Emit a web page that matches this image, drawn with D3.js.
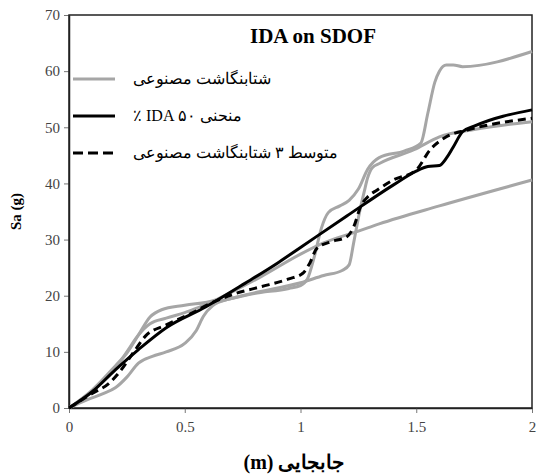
<!DOCTYPE html>
<html>
<head>
<meta charset="utf-8">
<script src="https://cdn.jsdelivr.net/npm/d3@7/dist/d3.min.js"></script>
<style>
  html, body { margin: 0; padding: 0; background: #fff; }
  svg { display: block; }
  .serif { font-family: "Liberation Serif", "Times New Roman", Times, "DejaVu Serif", serif; }
</style>
</head>
<body>
<svg id="chart" width="537" height="476"></svg>
<script>
// Displacement (m) vs Sa (g) pairs for each IDA curve
const syntheticA = [[0,0],[0.1,3],[0.2,7],[0.25,10],[0.3,13],[0.35,15],[0.42,16],[0.5,17],[0.6,18.5],[0.65,19],[0.8,20.4],[0.95,21.3],[1.0,21.8],[1.03,23],[1.06,27],[1.09,32],[1.12,34.8],[1.17,36],[1.21,37],[1.25,39],[1.29,42.5],[1.34,44.6],[1.45,45.8],[1.52,47.2],[1.55,52.5],[1.58,58],[1.6,60],[1.63,61.1],[1.66,61.1],[1.7,60.8],[2,63.5]];
const syntheticB = [[0,0],[0.08,1.5],[0.15,2.6],[0.2,3.6],[0.25,5.5],[0.3,8],[0.36,9.2],[0.42,10],[0.5,11.5],[0.55,13.8],[0.58,16.3],[0.62,18.2],[0.7,19.5],[0.8,20.5],[1.0,22.3],[1.1,23.6],[1.18,24.5],[1.21,25.5],[1.23,29.5],[1.257,35.3],[1.275,38.5],[1.29,41],[1.31,42.8],[1.343,43.6],[1.49,46],[1.6,48.3],[1.75,49.6],[2,51]];
const syntheticC = [[0,0],[0.1,3.2],[0.2,7.5],[0.25,9.8],[0.3,13],[0.35,16.2],[0.4,17.5],[0.5,18.3],[0.63,19.2],[0.7,20.6],[0.83,23.4],[1.0,27.4],[1.1,29.4],[1.25,31.5],[1.34,32.8],[1.6,36],[2,40.6]];
const ida50 = [[0,0],[0.1,2.9],[0.2,6.8],[0.3,10.4],[0.42,14.3],[0.59,18],[0.76,22.2],[0.9,25.8],[1.0,28.6],[1.2,34.2],[1.4,39.7],[1.5,42.2],[1.55,43],[1.6,43.2],[1.63,44.5],[1.66,46.5],[1.7,49.2],[1.75,50.2],[2,53.1]];
const mean3 = [[0,0],[0.1,2.6],[0.17,4.3],[0.22,6.5],[0.28,10],[0.33,12.8],[0.42,14.8],[0.53,16.9],[0.62,18.8],[0.72,20.4],[0.83,21.6],[0.95,23],[1.01,24],[1.04,25.8],[1.07,28.4],[1.13,29.6],[1.2,30.5],[1.23,32.3],[1.26,35.9],[1.29,37.6],[1.33,38.8],[1.4,40.6],[1.5,42.4],[1.56,46],[1.63,48.3],[1.72,49.5],[2,51.6]];

const xTicks = [0, 0.5, 1, 1.5, 2];
const yTicks = [0, 10, 20, 30, 40, 50, 60, 70];

const chartTitle = "IDA on SDOF";
const xTitle = "جابجایی (m)";
const yTitle = "Sa (g)";
const legendLabels = ["شتابنگاشت مصنوعی", "منحنی IDA ۵۰ ٪", "متوسط ۳ شتابنگاشت مصنوعی"];

const svg = d3.select("#chart");
const plotLeft = 69, plotRight = 532, plotTop = 15, plotBottom = 408;

const x = d3.scaleLinear().domain([0, 2]).range([plotLeft, plotRight]);
const y = d3.scaleLinear().domain([0, 70]).range([plotBottom, plotTop]);

// axes
const xAxis = svg.append("g")
  .attr("transform", `translate(0,${plotBottom})`)
  .call(d3.axisBottom(x).tickValues(xTicks).tickSize(5).tickSizeOuter(0)
        .tickFormat(d => d3.format("")(d)));
const yAxis = svg.append("g")
  .attr("transform", `translate(${plotLeft},0)`)
  .call(d3.axisLeft(y).tickValues(yTicks).tickSize(5).tickSizeOuter(0));

[xAxis, yAxis].forEach(g => {
  g.attr("font-family", null).attr("font-size", null);
  g.select(".domain").attr("stroke", "#222").attr("stroke-width", 1.5);
  g.selectAll(".tick line").attr("stroke", "#777");
  g.selectAll(".tick text")
    .attr("class", "serif").style("font-size", "15px").attr("fill", "#444");
});
xAxis.selectAll(".tick text").attr("dy", "1.05em");
yAxis.selectAll(".tick text").attr("x", -9);

// plot frame
svg.append("rect")
  .attr("x", plotLeft).attr("y", plotTop)
  .attr("width", plotRight - plotLeft).attr("height", plotBottom - plotTop)
  .attr("fill", "none").attr("stroke", "#222").attr("stroke-width", 1.5);

const line = d3.line()
  .x(d => x(d[0])).y(d => y(d[1]))
  .curve(d3.curveMonotoneX);

const plot = svg.append("g");

[syntheticA, syntheticB, syntheticC].forEach(s => {
  plot.append("path").datum(s)
    .attr("d", line)
    .attr("fill", "none").attr("stroke", "#a6a6a6").attr("stroke-width", 3)
    .attr("stroke-linejoin", "round");
});

plot.append("path").datum(ida50)
  .attr("d", line)
  .attr("fill", "none").attr("stroke", "#000").attr("stroke-width", 3)
  .attr("stroke-linejoin", "round");

plot.append("path").datum(mean3)
  .attr("d", line)
  .attr("fill", "none").attr("stroke", "#000").attr("stroke-width", 3)
  .attr("stroke-dasharray", "8,5");

// title
svg.append("text")
  .attr("class", "serif")
  .attr("x", 313).attr("y", 43)
  .attr("text-anchor", "middle")
  .style("font-weight", "bold").style("font-size", "21px")
  .attr("fill", "#000")
  .text(chartTitle);

// legend
const legendStyles = [
  { stroke: "#a6a6a6", dash: null },
  { stroke: "#000", dash: null },
  { stroke: "#000", dash: "10,5" }
];
const legendY = [79, 116, 153];
legendLabels.forEach((lab, i) => {
  svg.append("line")
    .attr("x1", 73).attr("x2", 115)
    .attr("y1", legendY[i]).attr("y2", legendY[i])
    .attr("stroke", legendStyles[i].stroke).attr("stroke-width", 3)
    .attr("stroke-dasharray", legendStyles[i].dash);
  svg.append("text")
    .attr("class", "serif")
    .attr("x", 133).attr("y", legendY[i] + 5)
    .attr("direction", "rtl")
    .attr("text-anchor", "end")
    .style("font-size", "16px")
    .attr("fill", "#000")
    .text(lab);
});

// axis titles
svg.append("text")
  .attr("class", "serif")
  .attr("transform", `translate(21,${(plotTop + plotBottom) / 2}) rotate(-90)`)
  .attr("text-anchor", "middle")
  .style("font-weight", "bold").style("font-size", "15px")
  .attr("fill", "#000")
  .text(yTitle);

svg.append("text")
  .attr("class", "serif")
  .attr("x", 294).attr("y", 469)
  .attr("direction", "rtl")
  .attr("text-anchor", "middle")
  .style("font-weight", "bold").style("font-size", "20px")
  .attr("fill", "#000")
  .text(xTitle);
</script>
</body>
</html>
